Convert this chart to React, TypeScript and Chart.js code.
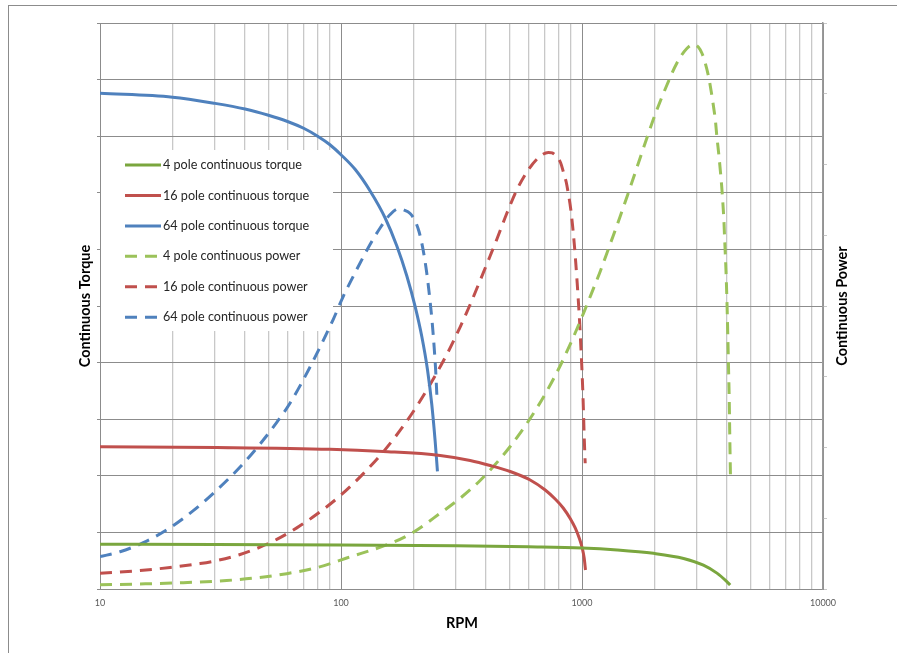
import React, { useEffect, useRef } from 'react';
import { Chart, registerables } from 'chart.js';

Chart.register(...registerables);

// ---- data (RPM on x, torque on left axis 0..10, power on right axis 0..8) ----
const rpm4Torque = [10, 30, 100, 300, 600, 1000, 1400, 1980, 2640, 3190, 3630, 3990, 4120];
const torque4 = [0.79, 0.786, 0.777, 0.762, 0.745, 0.725, 0.69, 0.63, 0.54, 0.42, 0.28, 0.13, 0.07];

const rpm16Torque = [10, 30.5, 90, 149.6, 257.8, 343.5, 415.7, 503.4, 609.5, 703.6, 774, 835.6, 893.4, 937.2, 973.6, 1002, 1021, 1034];
const torque16 = [2.514, 2.5, 2.468, 2.429, 2.359, 2.27, 2.182, 2.076, 1.926, 1.749, 1.59, 1.431, 1.246, 1.078, 0.901, 0.724, 0.548, 0.336];

const rpm64Torque = [10, 20, 30, 40, 50, 60, 70, 80, 90, 100, 114.4, 132.1, 152.5, 170.5, 187.6, 203.1, 216.5, 228.5, 238.2, 245.9, 251.3];
const torque64 = [8.76, 8.69, 8.58, 8.48, 8.37, 8.26, 8.14, 8.0, 7.849, 7.673, 7.415, 7.032, 6.555, 6.06, 5.53, 4.988, 4.456, 3.873, 3.251, 2.609, 2.08];

const rpm4Power = [10, 14.66, 22.17, 33.54, 44.67, 59.53, 79.3, 105.6, 164.9, 199.5, 257.8, 312.1, 377.9, 436.2, 503.4, 609.5, 715, 812, 921.1, 1013, 1115, 1190, 1309, 1441, 1586, 1716, 1859, 2013, 2251, 2477, 2723, 2903, 3037, 3146, 3246, 3351, 3434, 3514, 3579, 3628, 3690, 3748, 3798, 3842, 3879, 3904, 3930, 3957, 3993, 4025, 4054, 4083, 4106, 4134];
const power4 = [0.059, 0.071, 0.089, 0.12, 0.158, 0.217, 0.302, 0.438, 0.661, 0.802, 1.07, 1.282, 1.534, 1.76, 2.014, 2.41, 2.798, 3.156, 3.561, 3.893, 4.246, 4.488, 4.876, 5.269, 5.679, 6.025, 6.376, 6.711, 7.124, 7.435, 7.64, 7.696, 7.661, 7.572, 7.435, 7.241, 7.04, 6.817, 6.616, 6.393, 6.163, 5.922, 5.696, 5.452, 5.216, 4.979, 4.749, 4.509, 4.085, 3.618, 3.142, 2.671, 2.106, 1.541];

const rpm16Power = [10, 14.66, 19.53, 26.01, 30.48, 38.13, 44.67, 54.14, 65.54, 79.3, 99.2, 123.8, 150.1, 187.4, 226.9, 274.9, 312.1, 343.5, 377.9, 415.7, 442.9, 487.3, 536.3, 599, 669.9, 725.3, 751.9, 786, 815.8, 837.2, 859.9, 878.1, 897.8, 913.3, 928.2, 941.6, 955.2, 967.2, 978.4, 988.6, 998.1, 1006.8, 1014.4, 1021.2, 1031];
const power16 = [0.222, 0.261, 0.304, 0.359, 0.401, 0.487, 0.572, 0.702, 0.864, 1.056, 1.318, 1.631, 1.942, 2.372, 2.811, 3.316, 3.703, 4.021, 4.361, 4.707, 4.94, 5.307, 5.64, 5.926, 6.117, 6.17, 6.163, 6.11, 6.021, 5.894, 5.753, 5.583, 5.371, 5.145, 4.89, 4.622, 4.322, 4.035, 3.753, 3.442, 3.145, 2.834, 2.495, 2.155, 1.777];

const rpm64Power = [10, 12.11, 15.12, 18.92, 24.38, 30.48, 38.13, 46.15, 54.14, 61.5, 74.4, 93, 102.3, 112.5, 127.9, 145.3, 159.9, 173.1, 182.8, 193.6, 203.1, 211, 219.2, 226.6, 233.2, 238.9, 243.5, 247, 249.9];
const power64 = [0.457, 0.527, 0.654, 0.836, 1.107, 1.396, 1.724, 2.049, 2.356, 2.629, 3.138, 3.816, 4.141, 4.421, 4.785, 5.103, 5.293, 5.374, 5.356, 5.307, 5.201, 5.046, 4.792, 4.481, 4.127, 3.774, 3.42, 3.095, 2.742];

const xTickValues = [10, 20, 30, 40, 50, 60, 70, 80, 90, 100, 200, 300, 400, 500, 600, 700, 800, 900, 1000, 2000, 3000, 4000, 5000, 6000, 7000, 8000, 9000, 10000];

const seriesLabels = [
  '4 pole continuous torque',
  '16 pole continuous torque',
  '64 pole continuous torque',
  '4 pole continuous power',
  '16 pole continuous power',
  '64 pole continuous power',
];

const GREEN_SOLID = '#7AA63E';
const GREEN = '#9BC25A';
const RED = '#C0504D';
const BLUE = '#4F81BD';
const DASH = [12, 8];
const FONT = 'Lato, "Open Sans", sans-serif';

const isPow10 = (v: number) => Math.abs(Math.log10(v) - Math.round(Math.log10(v))) < 1e-9;

export default function App() {
  const ref = useRef<HTMLCanvasElement>(null);

  useEffect(() => {
    const canvas = ref.current!;
    const pts = (xs: number[], ys: number[]) => xs.map((x, i) => ({ x, y: ys[i] }));

    const styles = [
      { color: GREEN_SOLID, dash: [] as number[] },
      { color: RED, dash: [] as number[] },
      { color: BLUE, dash: [] as number[] },
      { color: GREEN, dash: DASH },
      { color: RED, dash: DASH },
      { color: BLUE, dash: DASH },
    ];

    const overlay = {
      id: 'overlay',
      beforeDatasetsDraw(chart: any) {
        const ctx = chart.ctx;
        ctx.save();
        ctx.fillStyle = '#ffffff';
        ctx.fillRect(101, 150, 232, 181);
        ctx.restore();
      },
      afterDatasetsDraw(chart: any) {
        const ctx = chart.ctx;
        ctx.save();
        const y0 = 165;
        const step = 30.45;
        seriesLabels.forEach((lab, i) => {
          const y = y0 + i * step;
          ctx.strokeStyle = styles[i].color;
          ctx.lineWidth = 3;
          ctx.setLineDash(styles[i].dash);
          ctx.beginPath();
          ctx.moveTo(125, y);
          ctx.lineTo(161, y);
          ctx.stroke();
          ctx.setLineDash([]);
          ctx.fillStyle = '#262626';
          ctx.font = `12.6px ${FONT}`;
          ctx.textAlign = 'left';
          ctx.textBaseline = 'middle';
          ctx.fillText(lab, 163, y);
        });
        ctx.restore();
      },
      afterDraw(chart: any) {
        const ctx = chart.ctx;
        ctx.save();
        ctx.strokeStyle = '#8c8c8c';
        ctx.lineWidth = 1;
        ctx.strokeRect(8.5, 5.5, 1200, 1200);
        ctx.fillStyle = '#000000';
        ctx.font = `bold 14.5px ${FONT}`;
        ctx.textAlign = 'center';
        ctx.textBaseline = 'middle';
        ctx.fillText('RPM', 462, 623);
        ctx.translate(85, 306);
        ctx.rotate(-Math.PI / 2);
        ctx.fillText('Continuous Torque', 0, 0);
        ctx.restore();
        ctx.save();
        ctx.fillStyle = '#000000';
        ctx.font = `bold 14.5px ${FONT}`;
        ctx.textAlign = 'center';
        ctx.textBaseline = 'middle';
        ctx.translate(842, 306);
        ctx.rotate(-Math.PI / 2);
        ctx.fillText('Continuous Power', 0, 0);
        ctx.restore();
      },
    };

    const mk = (i: number, xs: number[], ys: number[], axis: string) => ({
      label: seriesLabels[i],
      data: pts(xs, ys),
      borderColor: styles[i].color,
      backgroundColor: styles[i].color,
      borderDash: styles[i].dash,
      borderWidth: 3,
      pointRadius: 0,
      fill: false,
      cubicInterpolationMode: 'monotone',
      yAxisID: axis,
    });

    const chart = new Chart(canvas, {
      type: 'line',
      data: {
        datasets: [
          mk(0, rpm4Torque, torque4, 'y'),
          mk(1, rpm16Torque, torque16, 'y'),
          mk(2, rpm64Torque, torque64, 'y'),
          mk(3, rpm4Power, power4, 'y2'),
          mk(4, rpm16Power, power16, 'y2'),
          mk(5, rpm64Power, power64, 'y2'),
        ] as any,
      },
      options: {
        responsive: false,
        animation: false,
        parsing: false as any,
        normalized: true,
        layout: { padding: { top: 23, left: 0, right: 0, bottom: 0 } },
        plugins: { legend: { display: false }, tooltip: { enabled: false }, title: { display: false } },
        scales: {
          x: {
            type: 'logarithmic',
            min: 10,
            max: 10000,
            afterFit: (s: any) => { s.height = 64; },
            afterBuildTicks: (s: any) => { s.ticks = xTickValues.map((v) => ({ value: v })); },
            ticks: {
              autoSkip: false,
              maxRotation: 0,
              minRotation: 0,
              padding: 9,
              color: '#595959',
              font: { family: FONT, size: 9 },
              callback: (v: any) => (isPow10(Number(v)) ? String(v) : ''),
            },
            grid: {
              color: (c: any) => (c.tick && isPow10(c.tick.value) ? '#8c8c8c' : '#c8c8c8'),
              lineWidth: (c: any) => (c.tick && isPow10(c.tick.value) ? 1 : 1.3),
              drawTicks: false,
            },
            border: { color: '#8c8c8c' },
          },
          y: {
            position: 'left',
            min: 0,
            max: 10,
            afterFit: (s: any) => { s.width = 100; },
            ticks: { stepSize: 1, display: false },
            grid: { color: '#8c8c8c', tickLength: 3 },
            border: { color: '#8c8c8c' },
          },
          y2: {
            position: 'right',
            min: 0,
            max: 8,
            afterFit: (s: any) => { s.width = 74; },
            ticks: { stepSize: 1, display: false },
            grid: { drawOnChartArea: false, color: '#c8c8c8', tickLength: 4 },
            border: { color: '#9a9a9a', width: 1.5 },
          },
        },
      } as any,
      plugins: [overlay],
    });
    return () => chart.destroy();
  }, []);

  return (
    <div style={{ position: 'fixed', left: 0, top: 0, width: 897, height: 653, background: '#fff' }}>
      <canvas ref={ref} width={897} height={653} style={{ display: 'block', width: 897, height: 653 }} />
    </div>
  );
}
